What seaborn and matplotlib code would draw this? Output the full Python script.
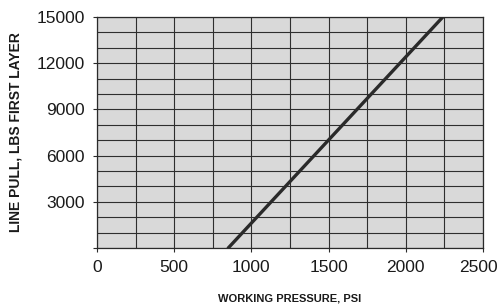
import matplotlib
matplotlib.use("Agg")
import matplotlib.pyplot as plt
import matplotlib.transforms as mtransforms
from matplotlib.ticker import MultipleLocator
import seaborn as sns
import pandas as pd

# values
pressure = [850, 2240]
line_pull = [0, 15000]
x_ticks = [0, 500, 1000, 1500, 2000, 2500]
y_ticks = [0, 3000, 6000, 9000, 12000, 15000]
y_tick_labels = ["", "3000", "6000", "9000", "12000", "15000"]

df = pd.DataFrame({"pressure": pressure, "pull": line_pull})

sns.set_style("ticks", {"axes.facecolor": "#d9d9d9", "axes.edgecolor": "#2a2a2a"})
plt.rcParams["font.family"] = ["Liberation Sans", "DejaVu Sans"]

fig = plt.figure(figsize=(4.98, 3.05), dpi=100)
ax = fig.add_axes([0.1948, 0.1869, 0.7751, 0.7574])

sns.lineplot(data=df, x="pressure", y="pull", ax=ax, color="#2a2a2a", linewidth=2.4)

ax.set_xlim(0, 2500)
ax.set_ylim(0, 15000)
ax.set_xticks(x_ticks)
ax.set_yticks(y_ticks)
ax.set_yticklabels(y_tick_labels)
ax.xaxis.set_minor_locator(MultipleLocator(250))
ax.yaxis.set_minor_locator(MultipleLocator(1000))
ax.grid(which="both", color="#2e2e2e", linewidth=0.8)
ax.set_axisbelow(True)

ax.tick_params(which="major", length=3, width=0.8, color="#2a2a2a",
               labelsize=12.5, labelcolor="#1a1a1a", pad=6)
ax.tick_params(which="minor", length=0)

# last x label sits right at the figure edge, nudge it in a bit
last = ax.get_xticklabels()[-1]
last.set_transform(last.get_transform() +
                   mtransforms.ScaledTranslation(-0.045, 0, fig.dpi_scale_trans))

for s in ax.spines.values():
    s.set_linewidth(0.9)

ax.set_xlabel("WORKING PRESSURE, PSI", fontsize=8, fontweight="bold",
              color="#1a1a1a", labelpad=13)
ax.set_ylabel("LINE PULL, LBS FIRST LAYER", fontsize=10, fontweight="bold",
              color="#1a1a1a", labelpad=10)

fig.savefig("out.png", dpi=100)
